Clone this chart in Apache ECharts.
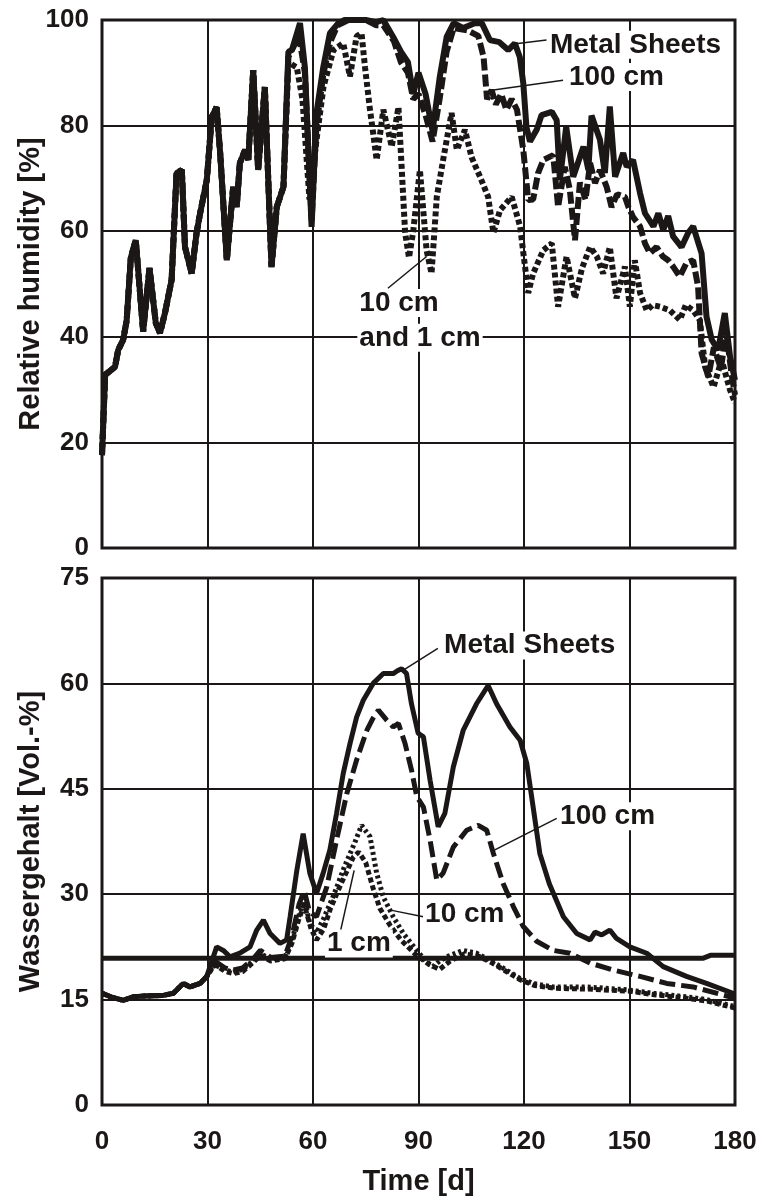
<!DOCTYPE html>
<html>
<head>
<meta charset="utf-8">
<script src="https://cdn.jsdelivr.net/npm/echarts@6/dist/echarts.min.js"></script>
<style>
  html, body { margin: 0; padding: 0; background: #fff; }
  #main { width: 762px; height: 1199px; }
</style>
</head>
<body>
<div id="main"></div>
<script>
// 横轴刻度 (天)
const timeTicks = [0, 30, 60, 90, 120, 150, 180]

// 上图: 相对湿度 [%]  -- 前 53 天三条线基本重合
const rhEarly = [
  [0, 17.6], [0.9, 32.8], [3.7, 34.3], [4.6, 37.5], [6, 39.4], [7, 43], [8.2, 55], [9.6, 58.3],
  [11.7, 41], [13.5, 53], [15.3, 42.6], [16.5, 40.7], [17.9, 44.5], [19.8, 50.8], [21.2, 71],
  [22.7, 71.6], [23.6, 57], [25.5, 52], [26.9, 59.7], [27.9, 63.4], [29.8, 69.7], [31.2, 81.6],
  [32.6, 83.5], [33.6, 74.8], [35.5, 54.5], [37.3, 68.4], [38.3, 64.6], [39.2, 72.9], [40.7, 75.4],
  [41.6, 73.5], [43, 90.5], [44.4, 71.6], [46.3, 87.3], [48.2, 53.2], [49.7, 64.6], [51.6, 68.4]
]
const rhMetal = [
  [53, 94], [54, 94.3], [56.3, 99.4], [57.7, 91], [59.6, 60.8], [61, 82.4], [62.9, 91], [64.8, 97.5],
  [67.2, 99.4], [69, 100], [72, 100], [75, 100], [78, 99.6], [80, 100], [82.8, 96.8], [85, 94],
  [87, 92], [88.5, 86], [90, 90], [92, 86], [94, 79], [96, 89], [98, 96.8], [100, 99.4],
  [102.7, 98.5], [106, 99.4], [108, 99.4], [110.3, 96.2], [113, 95.8], [115.5, 94.3], [117.4, 95.6],
  [118.8, 93], [119.8, 88], [120.7, 79.7], [121.7, 77], [123.6, 79.2], [125, 82], [127.9, 82.6],
  [129.3, 81], [130.2, 69.7], [132, 79.8], [134, 70.3], [136.9, 76], [138.3, 71.6], [139.2, 81.9],
  [141.6, 77.3], [143, 71], [144.4, 83.6], [145.9, 70.3], [148.2, 74.8], [149.2, 72.2], [151, 73.5],
  [153, 67.2], [154.4, 63.4], [156.8, 60.9], [158.2, 63.4], [159.6, 60.2], [161, 62.9], [162.4, 59],
  [164.8, 57], [166.7, 59.7], [168.1, 60.9], [170.5, 55.8], [171.9, 43.8], [173.4, 39.4],
  [175.2, 37.5], [177.1, 44.5], [178.6, 36.2], [180, 31.8]
]
const rh100cm = [
  [53, 93], [56, 97], [57.7, 90], [59.6, 62], [61, 80], [63, 90], [65, 96], [67, 99], [70, 100],
  [75, 100], [78, 99], [80, 99], [83, 96], [85, 92], [87, 90], [88.5, 85], [90, 86], [92, 82],
  [94, 77], [96, 85], [98, 94], [100, 98.5], [104, 98], [107, 97], [108.5, 93], [109.5, 85],
  [110.8, 86.7], [112, 84], [113.5, 86], [115, 83], [116.5, 85], [118, 83], [119.8, 75.4],
  [121.2, 65.9], [122.6, 66], [124, 71], [125.5, 73.5], [128.3, 74.4], [129.7, 64.6], [131.6, 72.2],
  [133, 68], [134.5, 58.3], [135.9, 69.2], [137.5, 66], [138.8, 72.9], [140.2, 69.1], [141.6, 71.6],
  [143.5, 68.4], [144.9, 64.6], [146.5, 67], [148.7, 66.5], [149.7, 64.6], [151, 62.7], [153, 60.9],
  [154.4, 57.7], [155.8, 55.8], [157.7, 57], [159.5, 55.2], [161, 54.5], [162.4, 53.3], [164.3, 51.4],
  [166.2, 54], [168.1, 54.5], [169.5, 49.5], [170.5, 36.9], [172.4, 32.4], [174, 38], [176, 34],
  [177.5, 41], [179, 33], [180, 29]
]
const rh10and1cm = [
  [53, 92], [55.4, 91], [57, 85], [59, 66], [61, 77.3], [63, 87.4], [65.8, 94.3], [68.6, 95.6],
  [70.5, 89.3], [72.4, 96.9], [73.8, 97.5], [74.8, 91], [76.2, 83], [77.1, 78.6], [78.1, 73.5],
  [80, 83], [82.4, 76], [84.3, 83.5], [85.2, 72.2], [86.2, 59.7], [87.3, 55], [88.5, 60],
  [90.4, 71.6], [92.3, 56.4], [93.7, 52], [95.2, 66.5], [97, 73.5], [99.4, 82.4], [100.9, 75.4],
  [103.2, 79.2], [105.1, 74], [107.5, 70.3], [109.8, 66.5], [111.3, 59.7], [113.2, 64], [116.5, 66.5],
  [118.9, 60.9], [121.2, 48.3], [122.6, 52], [125.5, 56.4], [127.9, 57.7], [129.7, 45.7], [132.1, 55.2],
  [134.5, 47.3], [136.5, 53], [138.8, 57], [140.7, 55.2], [142.5, 52], [144.4, 57], [146.3, 47.3],
  [148.7, 53.3], [150.1, 45.7], [151.5, 54.5], [153, 48.3], [154.9, 45], [156.5, 46], [158.7, 45.7],
  [161.5, 45], [164.3, 43.2], [166, 46], [168.1, 45], [170, 43.2], [171.5, 34.3], [173.9, 30.5],
  [176.2, 35.6], [178.6, 29.9], [180, 27.5]
]

// 下图: 含水量 [Vol.-%]
const wcEarly = [
  [0, 15.9], [3, 15.3], [6, 14.9], [8.9, 15.4], [12, 15.5], [17.4, 15.6], [20.3, 15.9],
  [23.1, 17.3], [25, 16.8], [27.9, 17.3], [29.8, 18.3]
]
const wcMetal = [
  [32.6, 22.5], [34.5, 22], [36.4, 21.1], [39.2, 21.6], [42.1, 22.5], [44, 24.9], [45.9, 26.3],
  [47.8, 24.4], [50.6, 23], [52.5, 23.5], [53.5, 26.8], [55.4, 33.4], [57.2, 38.6], [59.1, 33],
  [61, 30.1], [62.9, 33], [64.8, 36.3], [66.7, 41.5], [68.6, 47.2], [70.5, 51.4], [72.4, 55.2],
  [74.3, 57.6], [77.1, 60], [80, 61.4], [82.8, 61.4], [84, 61.8], [85.2, 62.1], [86.6, 61.4],
  [88, 57.1], [89.9, 52.9], [91.4, 52.4], [93.3, 46.2], [95.6, 39.6], [97.5, 41.5], [99.9, 48.1],
  [102.7, 53.3], [106.5, 57.1], [109.8, 59.7], [112.2, 57.1], [116, 53.8], [118.9, 51.9],
  [120.8, 48.6], [122.6, 42.4], [124.5, 35.8], [127.2, 31.5], [131.2, 26.8], [135, 24.4],
  [138.8, 23.5], [140.2, 24.6], [142.1, 24.2], [144.4, 24.9], [146.3, 23.7], [150.1, 22.5],
  [154.9, 21.6], [159.6, 19.7], [166.2, 18.3], [171.9, 17.3], [180, 15.8]
]
const wc100cm = [
  [32, 20.5], [35, 19.5], [37.3, 19.2], [40, 19.5], [43, 20.8], [45, 22], [48, 21], [52, 21.2],
  [54, 24], [56, 28.5], [57.5, 30.5], [59, 27.5], [61, 26.8], [63.9, 31], [66.7, 37.7], [69.6, 44.3],
  [72.4, 49.1], [75.3, 53.3], [77, 55], [78.6, 56.2], [80.9, 54.8], [82.8, 53.8], [84.3, 54.3],
  [86.2, 51.4], [88, 47.7], [89.5, 43.9], [91.4, 42.4], [93.3, 37.7], [95.2, 32], [97, 33],
  [99.9, 36.7], [103.7, 39.1], [107, 39.8], [109.4, 39.1], [111.3, 35.8], [114.1, 31.5], [117, 28.2],
  [119.8, 25.4], [123.6, 23.3], [128.3, 22], [133.1, 21.6], [138.8, 20.2], [145.4, 19.2], [153, 18.3],
  [160.6, 17.3], [168.1, 16.8], [180, 15.2]
]
const wc10cm = [
  [32, 20], [35, 19.2], [37.3, 18.9], [40, 19.3], [43, 20.5], [45, 21.5], [48, 20.8], [52, 21],
  [54, 23.5], [56, 27], [57.5, 29.5], [59, 26], [61, 24.5], [63, 26.5], [66, 30], [69, 34], [72, 37.5],
  [73.8, 39.8], [76.2, 38.2], [78.1, 33], [80, 29.6], [82.8, 26.8], [85.7, 24.4], [89.5, 22],
  [92, 20.5], [94.1, 19.7], [96, 20.5], [98, 21.1], [102.7, 22], [106.5, 21.6], [110.3, 20.6],
  [115, 19.2], [118.9, 18], [122.6, 17.3], [128.3, 16.8], [137.8, 16.8], [149.2, 16.4], [156.8, 15.9],
  [166.2, 15.4], [172, 15], [180, 14]
]
const wc1cm = [
  [32, 20], [35, 19], [37.3, 18.7], [40, 19], [43, 20.3], [45, 21.3], [48, 20.5], [52, 20.8],
  [54, 23], [56, 26.5], [57.5, 28.5], [59.5, 25], [61, 23.5], [63, 25], [65, 28], [68, 31.5],
  [71.5, 35.3], [73, 36], [75, 34.5], [77, 31], [79, 28], [82, 25.5], [85, 23.5], [89, 21.5],
  [93, 20], [96, 19.3], [99, 20.5], [103, 21.5], [107, 21.2], [111, 20.2], [115, 19], [119, 17.8],
  [123, 17], [129, 16.6], [138, 16.5], [150, 16.2], [157, 15.7], [166, 15.2], [172, 14.8], [180, 13.8]
]
// 下图中粗水平线
const wcRef = [[0, 20.9], [171, 20.9], [173, 21.3], [180, 21.3]]

const ink = '#1b1717'
const fontFam = '"Liberation Sans", Arial, sans-serif'

const chart = echarts.init(document.getElementById('main'), null, { renderer: 'canvas' })

function line(name, axis, data, width, dash) {
  return {
    name: name,
    type: 'line',
    xAxisIndex: axis,
    yAxisIndex: axis,
    data: data,
    symbol: 'none',
    smooth: false,
    lineStyle: { color: ink, width: width, type: dash || 'solid' },
    animation: false
  }
}

const tickText = { color: ink, fontWeight: 'bold', fontSize: 26, fontFamily: fontFam }
const titleText = { color: ink, fontWeight: 'bold', fontSize: 29, fontFamily: fontFam }
const split = { show: true, lineStyle: { color: ink, width: 2 } }

const option = {
  animation: false,
  grid: [
    { left: 102, top: 20, width: 633, height: 528, show: true, borderColor: ink, borderWidth: 3 },
    { left: 102, top: 578, width: 633, height: 527, show: true, borderColor: ink, borderWidth: 3 }
  ],
  xAxis: [
    {
      type: 'value', gridIndex: 0, min: 0, max: 180, interval: 30,
      axisLine: { show: false }, axisTick: { show: false }, axisLabel: { show: false },
      splitLine: split
    },
    {
      type: 'value', gridIndex: 1, min: 0, max: 180, interval: 30,
      axisLine: { show: false }, axisTick: { show: false },
      axisLabel: Object.assign({ margin: 24, formatter: v => timeTicks.includes(v) ? String(v) : '' }, tickText),
      splitLine: split,
      name: 'Time [d]', nameLocation: 'middle', nameGap: 62, nameMoveOverlap: false,
      nameTextStyle: titleText
    }
  ],
  yAxis: [
    {
      type: 'value', gridIndex: 0, min: 0, max: 100, interval: 20,
      axisLine: { show: false }, axisTick: { show: false },
      axisLabel: Object.assign({ margin: 13 }, tickText),
      splitLine: split,
      name: 'Relative humidity [%]', nameLocation: 'middle', nameGap: 57, nameRotate: 90,
      nameMoveOverlap: false,
      nameTextStyle: titleText
    },
    {
      type: 'value', gridIndex: 1, min: 0, max: 75, interval: 15,
      axisLine: { show: false }, axisTick: { show: false },
      axisLabel: Object.assign({ margin: 13 }, tickText),
      splitLine: split,
      name: 'Wassergehalt [Vol.-%]', nameLocation: 'middle', nameGap: 57, nameRotate: 90,
      nameMoveOverlap: false,
      nameTextStyle: titleText
    }
  ],
  series: [
    line('10 cm and 1 cm', 0, rhEarly.concat(rh10and1cm), 6, [5, 3]),
    line('100 cm', 0, rhEarly.concat(rh100cm), 6, [12, 4]),
    line('Metal Sheets', 0, rhEarly.concat(rhMetal), 6),
    line('ref', 1, wcRef, 5),
    line('1 cm', 1, wcEarly.concat(wc1cm), 5, [5, 3]),
    line('10 cm', 1, wcEarly.concat(wc10cm), 5, [3, 3]),
    line('100 cm', 1, wcEarly.concat(wc100cm), 5, [16, 6]),
    line('Metal Sheets', 1, wcEarly.concat(wcMetal), 5)
  ]
}
chart.setOption(option)

// 标注文字 + 引线 (数据坐标)
const notes = [
  { axis: 0, text: 'Metal Sheets', at: [126.8, 95.3], from: [116.5, 95.4], to: [126.4, 96.2] },
  { axis: 0, text: '100 cm', at: [132.2, 89.2], from: [110.8, 86.7], to: [131.1, 88.6] },
  { axis: 0, text: '10 cm', at: [72.6, 46.4], from: [92.3, 55.2], to: [81.3, 49.2] },
  { axis: 0, text: 'and 1 cm', at: [72.6, 39.8] },
  { axis: 1, text: 'Metal Sheets', at: [96.7, 65.4], from: [85.7, 61.9], to: [95.5, 65] },
  { axis: 1, text: '100 cm', at: [129.7, 41.1], from: [111.7, 36.3], to: [129.3, 40.8] },
  { axis: 1, text: '10 cm', at: [91.3, 27.2], from: [82.4, 27.7], to: [91.4, 26.8] },
  { axis: 1, text: '1 cm', at: [63.4, 23], from: [71.7, 33.4], to: [67.7, 24.5] }
]

const px = (axis, p) => chart.convertToPixel({ xAxisIndex: axis, yAxisIndex: axis }, p)
const elements = []
notes.forEach(n => {
  if (n.from) {
    const a = px(n.axis, n.from)
    const b = px(n.axis, n.to)
    elements.push({
      type: 'line', z: 99,
      shape: { x1: a[0], y1: a[1], x2: b[0], y2: b[1] },
      style: { stroke: ink, lineWidth: 1.5 }
    })
  }
  const t = px(n.axis, n.at)
  elements.push({
    type: 'text', z: 100, x: t[0], y: t[1],
    style: {
      text: n.text, fill: ink, font: 'bold 28px ' + fontFam,
      align: 'left', verticalAlign: 'middle',
      backgroundColor: '#fff', padding: [0, 2]
    }
  })
})
chart.setOption({ graphic: { elements: elements } })
</script>
</body>
</html>
